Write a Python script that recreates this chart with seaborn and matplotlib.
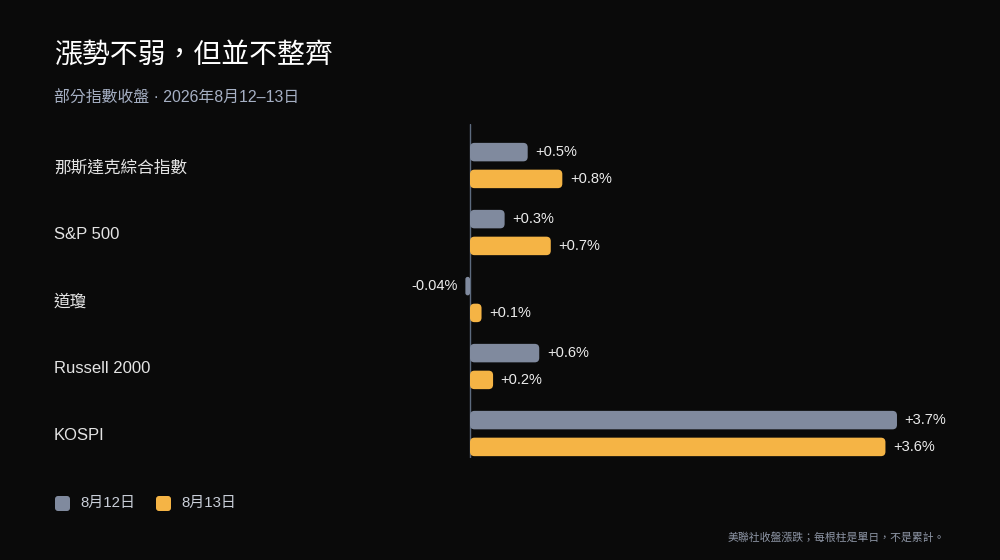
import matplotlib
matplotlib.use("Agg")
import matplotlib.pyplot as plt
import seaborn as sns
import pandas as pd
from matplotlib.patches import FancyBboxPatch, Rectangle
from matplotlib.transforms import blended_transform_factory, offset_copy

indices = ["那斯達克綜合指數", "S&P 500", "道瓊", "Russell 2000", "KOSPI"]
days = ["8月12日", "8月13日"]
aug12 = [0.5, 0.3, -0.04, 0.6, 3.7]
aug13 = [0.8, 0.7, 0.1, 0.2, 3.6]
colors = ["#808a9e", "#f5b445"]

bg = "#0a0a0a"

df = pd.DataFrame({
    "index": indices * 2,
    "day": [days[0]] * len(indices) + [days[1]] * len(indices),
    "chg": aug12 + aug13,
})

sns.set_theme(style="dark")
plt.rcParams["font.family"] = ["Liberation Sans", "Noto Sans CJK TC", "DejaVu Sans"]

fig = plt.figure(figsize=(10, 5.6), dpi=100, facecolor=bg)
ax = fig.add_axes([0.4123, 0.1821, 0.5193, 0.5964], facecolor=bg)

sns.barplot(data=df, x="chg", y="index", hue="day", order=indices, hue_order=days,
            palette=colors, saturation=1, orient="h", width=0.8, gap=0.31,
            legend=False, ax=ax)

ax.set_xlim(-0.5, 4.0)
ax.set_ylim(4.366, -0.619)
for s in ax.spines.values():
    s.set_visible(False)
ax.set_xticks([])
ax.set_yticks([])
ax.set_xlabel("")
ax.set_ylabel("")
ax.grid(False)
ax.axvline(0, color="#5c6a7e", lw=1, zorder=1)

# value labels
for cont in ax.containers:
    labs = [f"{r.get_width():+g}%" for r in cont]
    ax.bar_label(cont, labels=labs, padding=5.5, color="#ececec", fontsize=10.5)

# rounded bars
px_x = 115.4
px_y = 67.0
aspect = (1 / px_y) / (1 / px_x)
for p in list(ax.patches):
    if not isinstance(p, Rectangle):
        continue
    x, y, w, h = p.get_x(), p.get_y(), p.get_width(), p.get_height()
    if w < 0:
        x, w = x + w, -w
    r = min(4.5 / px_x, w / 2, h / aspect / 2)
    fc = p.get_facecolor()
    p.remove()
    ax.add_patch(FancyBboxPatch((x, y), w, h,
                                boxstyle=f"round,pad=0,rounding_size={r}",
                                mutation_aspect=aspect, fc=fc, ec="none", zorder=2))

# category labels, left aligned
tr = blended_transform_factory(fig.transFigure, ax.transData)
tr = offset_copy(tr, fig=fig, y=-2, units="dots")
for i, name in enumerate(indices):
    ax.text(54 / 1000, i, name, transform=tr, ha="left", va="center",
            color="#e4e4e4", fontsize=12)

fig.text(54 / 1000, 1 - 57 / 560, "漲勢不弱，但並不整齊", color="#ffffff",
         fontsize=20.1, ha="left", va="center")
fig.text(54 / 1000, 1 - 98 / 560, "部分指數收盤 · 2026年8月12–13日", color="#a6b0c4",
         fontsize=11.4, ha="left", va="center")

# legend
lx = [55, 156]
for k, d in enumerate(days):
    fig.patches.append(FancyBboxPatch((lx[k] / 1000, 1 - 511 / 560), 15 / 1000, 15 / 560,
                                      boxstyle="round,pad=0,rounding_size=0.003",
                                      mutation_aspect=1000 / 560,
                                      transform=fig.transFigure, fc=colors[k], ec="none"))
    fig.text((lx[k] + 25) / 1000, 1 - 503 / 560, d, color="#c9ced8", fontsize=10.8,
             ha="left", va="center")

fig.text(945 / 1000, 1 - 537 / 560, "美聯社收盤漲跌；每根柱是單日，不是累計。",
         color="#8e96a6", fontsize=7.8, ha="right", va="center")

fig.savefig("out.png", dpi=100, facecolor=bg)
